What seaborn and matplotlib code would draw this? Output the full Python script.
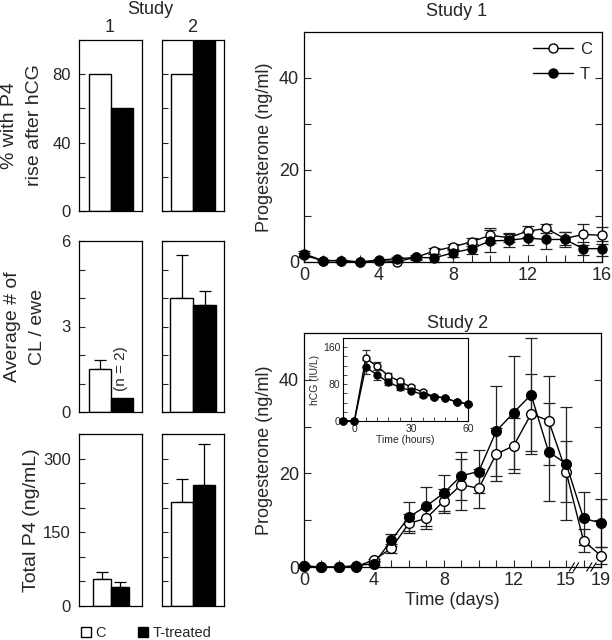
import numpy as np
import pandas as pd
import matplotlib
matplotlib.use("Agg")
import matplotlib.pyplot as plt
from matplotlib.patches import Patch
from matplotlib.lines import Line2D
import seaborn as sns

# ---------------- data ----------------
groups = ["C", "T"]
studies = ["1", "2"]
# % with P4 rise after hCG
pct_C = [80, 80]
pct_T = [60, 100]
# Average # of CL / ewe
cl_C = [1.5, 4.0]
cl_C_err = [0.32, 1.5]
cl_T = [0.5, 3.75]
cl_T_err = [0.0, 0.5]
# Total P4 (ng/mL)
tp4_C = [55, 212]
tp4_C_err = [14, 46]
tp4_T = [38, 246]
tp4_T_err = [11, 84]

# Study 1 progesterone (days 0-16)
s1_days = list(range(0, 17))
s1_C = [1.5, 0.3, 0.3, 0.0, 0.3, 0.1, 1.0, 2.4, 3.3, 4.4, 5.8, 5.3, 6.7, 7.3, 5.1, 6.0, 5.8]
s1_C_err = [0.5, 0.2, 0.2, 0.1, 0.2, 0.2, 0.4, 0.6, 0.7, 0.9, 1.6, 0.9, 1.2, 0.9, 1.5, 2.2, 1.8]
s1_T = [1.8, 0.3, 0.3, 0.0, 0.4, 0.7, 1.0, 0.9, 2.0, 2.9, 4.6, 4.7, 5.2, 4.9, 4.9, 2.9, 2.9]
s1_T_err = [0.5, 0.2, 0.2, 0.1, 0.3, 0.4, 0.5, 0.9, 0.9, 1.1, 2.4, 1.4, 1.6, 2.0, 1.6, 1.4, 1.7]

# Study 2 progesterone (days 0-15, 17, 19 ; axis broken after 15)
s2_days = [0, 1, 2, 3, 4, 5, 6, 7, 8, 9, 10, 11, 12, 13, 14, 15, 17, 19]
s2_pos = list(range(len(s2_days)))
s2_C = [0.2, 0.0, 0.0, 0.1, 1.5, 4.0, 9.3, 10.4, 14.1, 17.6, 16.8, 24.1, 25.9, 32.7, 31.3, 20.4, 5.6, 2.4]
s2_C_err = [0.2, 0.0, 0.0, 0.1, 0.3, 1.0, 2.0, 2.2, 2.5, 5.5, 4.1, 5.7, 5.9, 8.5, 9.5, 6.5, 2.5, 1.8]
s2_T = [0.2, 0.0, 0.0, 0.3, 0.7, 5.7, 10.7, 13.0, 15.8, 19.5, 20.4, 29.0, 33.0, 36.8, 24.6, 22.1, 10.4, 9.4]
s2_T_err = [0.2, 0.0, 0.0, 0.2, 0.3, 1.3, 3.1, 4.2, 3.9, 5.1, 4.5, 9.6, 12.0, 12.1, 10.5, 12.0, 5.7, 5.1]
s2_tick_days = [0, 4, 8, 12, 15, 19]

# inset hCG (IU/L) vs hours
hcg_hours = [-6, 0, 6, 12, 18, 24, 30, 36, 42, 48, 54, 60]
hcg_C = [0, 0, 136, 119, 98, 86, 73, 63, 53, 50, 41, 37]
hcg_C_err = [0, 0, 19, 8, 6, 5, 4, 4, 3, 3, 3, 3]
hcg_T = [0, 0, 117, 100, 84, 73, 66, 57, 53, 50, 41, 37]
hcg_T_err = [0, 0, 15, 10, 6, 5, 4, 4, 3, 3, 3, 3]

# ---------------- style ----------------
sns.set_style("ticks")
plt.rcParams["font.family"] = ["Liberation Sans", "DejaVu Sans"]
plt.rcParams["xtick.direction"] = "in"
plt.rcParams["ytick.direction"] = "in"
plt.rcParams["axes.linewidth"] = 0.9
plt.rcParams["axes.edgecolor"] = "black"

W, H = 612, 640
fig = plt.figure(figsize=(W / 100, H / 100), dpi=100)


def px_axes(l, t, r, b):
    return fig.add_axes([l / W, 1 - b / H, (r - l) / W, (b - t) / H])


def fx(x):
    return x / W


def fy(y):
    return 1 - y / H


# ---------------- left bar panels ----------------
rows = [(40, 211), (241, 412), (434, 606)]
cols = [(79, 142), (162, 224)]
bar_rows = [
    dict(C=pct_C, T=pct_T, Ce=None, Te=None, ylim=100, ticks=range(0, 101, 20), labels=[0, 40, 80]),
    dict(C=cl_C, T=cl_T, Ce=cl_C_err, Te=cl_T_err, ylim=6, ticks=range(0, 7, 1), labels=[0, 3, 6]),
    dict(C=tp4_C, T=tp4_T, Ce=tp4_C_err, Te=tp4_T_err, ylim=350, ticks=range(0, 351, 50), labels=[0, 150, 300]),
]
bar_px = [[22, 22], [22, 23], [18, 22]]
row_labels = ["% with P4\nrise after hCG", "Average # of\nCL / ewe", "Total P4 (ng/mL)"]
row_label_x = [22, 25, 32]

for ri, (top, bot) in enumerate(rows):
    spec = bar_rows[ri]
    for ci, (l, r) in enumerate(cols):
        ax = px_axes(l, top, r, bot)
        df = pd.DataFrame({"group": groups, "value": [spec["C"][ci], spec["T"][ci]]})
        sns.barplot(data=df, x="group", y="value", hue="group",
                    palette={"C": "white", "T": "black"}, edgecolor="black",
                    linewidth=1.0, width=1.0, legend=False, ax=ax, errorbar=None)
        if spec["Ce"] is not None:
            errs = [spec["Ce"][ci], spec["Te"][ci]]
            for xi, (v, e) in enumerate(zip(df["value"], errs)):
                if e > 0:
                    ax.errorbar([xi], [v], yerr=[[0], [e]], fmt="none", ecolor="black",
                                elinewidth=0.9, capsize=4, capthick=0.9, zorder=0.5)
        span = (r - l) / bar_px[ri][ci]
        ax.set_xlim(0.5 - span / 2, 0.5 + span / 2)
        ax.set_ylim(0, spec["ylim"])
        ax.set_xticks([])
        ax.set_xlabel("")
        ax.set_ylabel("")
        ax.set_yticks(list(spec["ticks"]))
        if ci == 0:
            ax.set_yticklabels([str(t) if t in spec["labels"] else "" for t in spec["ticks"]])
        else:
            ax.set_yticklabels([])
        ax.tick_params(axis="y", length=4, width=0.8, labelsize=12, pad=6)
        for s in ax.spines.values():
            s.set_visible(True)
            s.set_linewidth(0.9)
        if ri == 1 and ci == 0:
            ax.text(1, spec["T"][0] + 0.25, "(n = 2)", rotation=90, ha="center",
                    va="bottom", fontsize=11)
    fig.text(fx(row_label_x[ri]), fy((top + bot) / 2), row_labels[ri], rotation=90,
             ha="center", va="center", multialignment="center", fontsize=14,
             linespacing=1.55)

fig.text(fx(150), fy(10), "Study", ha="center", va="center", fontsize=13)
fig.text(fx(110), fy(27), "1", ha="center", va="center", fontsize=13)
fig.text(fx(192), fy(27), "2", ha="center", va="center", fontsize=13)

fig.legend(handles=[Patch(facecolor="white", edgecolor="black", label="C"),
                    Patch(facecolor="black", edgecolor="black", label="T-treated")],
           loc="center", bbox_to_anchor=(fx(146), fy(633)), ncol=2, frameon=False,
           fontsize=10.5, handlelength=0.7, handleheight=0.7, handletextpad=0.3,
           columnspacing=2.2)


# ---------------- right line panels ----------------
def draw_series(ax, x, y, err, filled, ms, lw=1.0, ecol="#222222", cap=4):
    ax.errorbar(x, y, yerr=err, fmt="none", ecolor=ecol, elinewidth=0.9,
                capsize=cap, capthick=0.9, zorder=2, clip_on=False)
    sns.lineplot(x=x, y=y, ax=ax, color="black", lw=lw, marker="o", markersize=ms,
                 markerfacecolor="black" if filled else "white",
                 markeredgecolor="black", markeredgewidth=1.0,
                 zorder=4 if filled else 3, clip_on=False)


# Study 1
ax1 = px_axes(304, 32, 602, 262)
draw_series(ax1, s1_days, s1_C, s1_C_err, False, 6.5)
draw_series(ax1, s1_days, s1_T, s1_T_err, True, 6.5)
ax1.set_xlim(0, 16)
ax1.set_ylim(0, 50)
ax1.set_xticks(range(0, 17))
ax1.set_xticklabels([str(d) if d % 4 == 0 else "" for d in range(0, 17)])
ax1.set_yticks(range(0, 50, 10))
ax1.set_yticklabels(["0", "", "20", "", "40"])
ax1.set_ylabel("Progesterone (ng/ml)", fontsize=13, labelpad=4)
ax1.set_xlabel("")
ax1.tick_params(length=5, width=0.8, labelsize=13)
ax1.tick_params(axis="y", which="both", right=True, labelright=False)
fig.text(fx(457), fy(11), "Study 1", ha="center", va="center", fontsize=13)
leg_handles = [
    Line2D([], [], color="black", lw=1, marker="o", markersize=6.5,
           markerfacecolor="white", markeredgecolor="black", label="C"),
    Line2D([], [], color="black", lw=1, marker="o", markersize=6.5,
           markerfacecolor="black", markeredgecolor="black", label="T"),
]
ax1.legend(handles=leg_handles, loc="upper right", frameon=False, fontsize=12,
           handlelength=2.4, handletextpad=0.4, labelspacing=0.6,
           borderaxespad=0.2)

# Study 2
ax2 = px_axes(304, 333, 601, 567)
draw_series(ax2, s2_pos, s2_C, s2_C_err, False, 7)
draw_series(ax2, s2_pos, s2_T, s2_T_err, True, 7)
ax2.set_xlim(0, len(s2_pos) - 1)
ax2.set_ylim(0, 50)
ax2.set_xticks(s2_pos)
ax2.set_xticklabels([str(d) if d in s2_tick_days else "" for d in s2_days])
ax2.set_yticks(range(0, 50, 10))
ax2.set_yticklabels(["0", "", "20", "", "40"])
ax2.set_ylabel("Progesterone (ng/ml)", fontsize=13, labelpad=4)
ax2.set_xlabel("Time (days)", fontsize=13, labelpad=2)
ax2.tick_params(length=5, width=0.8, labelsize=13)
ax2.tick_params(axis="y", which="both", right=True, labelright=False)
fig.text(fx(458), fy(323), "Study 2", ha="center", va="center", fontsize=13)
# axis-break marks between non-consecutive days
for p in range(len(s2_days) - 1):
    if s2_days[p + 1] - s2_days[p] > 1:
        for off in (-0.12, 0.12):
            xm = p + 0.45 + off
            ax2.plot([xm - 0.15, xm + 0.15], [-0.9, 0.9], color="black", lw=0.8,
                     clip_on=False, zorder=6)

# inset hCG
axi = px_axes(343, 338, 468, 421)
draw_series(axi, hcg_hours, hcg_C, hcg_C_err, False, 5, ecol="#333333", cap=3)
draw_series(axi, hcg_hours, hcg_T, hcg_T_err, True, 5, ecol="#333333", cap=3)
axi.set_xlim(-6, 60)
axi.set_ylim(0, 180)
axi.set_xticks(range(0, 61, 6))
axi.set_xticklabels([str(h) if h % 30 == 0 else "" for h in range(0, 61, 6)])
axi.set_yticks(range(0, 180, 20))
axi.set_yticklabels([str(v) if v % 80 == 0 else "" for v in range(0, 180, 20)])
axi.tick_params(length=3, width=0.6, labelsize=7.5, pad=2)
axi.set_xlabel("Time (hours)", fontsize=7.5, labelpad=1)
axi.set_ylabel("hCG (IU/L)", fontsize=7.5, labelpad=2)
for s in axi.spines.values():
    s.set_linewidth(0.8)

fig.savefig("out.png", dpi=100)
